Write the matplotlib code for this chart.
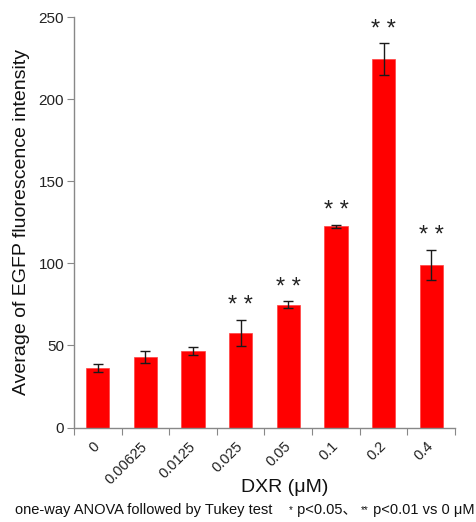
import matplotlib
matplotlib.use("Agg")
import matplotlib.pyplot as plt
import numpy as np

categories = ["0", "0.00625", "0.0125", "0.025", "0.05", "0.1", "0.2", "0.4"]
means = [36.2, 42.9, 46.6, 57.6, 74.8, 122.5, 224.6, 99.0]
errors = [2.5, 3.5, 2.5, 8.0, 2.0, 1.0, 9.5, 9.0]
significance = ["", "", "", "**", "**", "**", "**", "**"]
yticks = [0, 50, 100, 150, 200, 250]

plt.rcParams['font.family'] = ['Liberation Sans', 'Noto Sans CJK SC', 'DejaVu Sans']

fig = plt.figure(figsize=(4.77, 5.22), dpi=100)
ax = fig.add_axes([0.155, 0.181, 0.799, 0.786])

x = np.arange(len(categories))
ax.bar(x, means, width=0.49, color="#ff0000", edgecolor="#ff4040", linewidth=0.5, zorder=2)
ax.errorbar(x, means, yerr=errors, fmt="none", ecolor="#1a1a1a", elinewidth=1.0,
            capsize=3.5, capthick=1.0, zorder=3)

for xi, m, e, s in zip(x, means, errors, significance):
    if s:
        ax.annotate("* *", xy=(xi, m + e), xytext=(0, 2), textcoords="offset points",
                    ha="center", va="bottom", fontsize=17, color="#222222")

ax.set_xlim(-0.5, len(categories) - 0.5)
ax.set_ylim(0, 250)
ax.set_yticks(yticks)
ax.set_yticklabels([str(t) for t in yticks], fontsize=11, color="#222222")

ax.set_xticks(np.arange(len(categories) + 1) - 0.5)
ax.set_xticklabels([])
ax.set_xticks(x, minor=True)
ax.set_xticklabels(categories, minor=True, rotation=45, ha="right", va="center",
                   rotation_mode="anchor", fontsize=10.5, color="#222222")
ax.tick_params(axis="x", which="minor", length=0, pad=12)
ax.tick_params(axis="x", which="major", length=5, color="#888888", direction="out")
ax.tick_params(axis="y", length=5, color="#888888", direction="out", pad=2)

for side in ["top", "right"]:
    ax.spines[side].set_visible(False)
for side in ["left", "bottom"]:
    ax.spines[side].set_color("#888888")
    ax.spines[side].set_linewidth(1.0)

ax.set_ylabel("Average of EGFP fluorescence intensity", fontsize=14, color="#111111", labelpad=6)
fig.text(0.597, 0.067, "DXR (μM)", ha="center", va="center", fontsize=14, color="#111111")

# footnote with small star glyphs, placed piece by piece on a shared baseline
pieces = [("one-way ANOVA followed by Tukey test    ", 10.5, 0),
          ("*", 7, 1), (" p<0.05、 ", 10.5, 0), ("**", 7, 1), (" p<0.01 vs 0 μM", 10.5, 0)]
renderer = fig.canvas.get_renderer()
x_px = 15.0
base_px = 522 - 514
for txt, fs, lift in pieces:
    t = fig.text(x_px / 477, (base_px + lift) / 522, txt, fontsize=fs, color="#111111",
                 ha="left", va="baseline")
    bb = t.get_window_extent(renderer=renderer)
    x_px += bb.width

fig.savefig("out.png", dpi=100)
